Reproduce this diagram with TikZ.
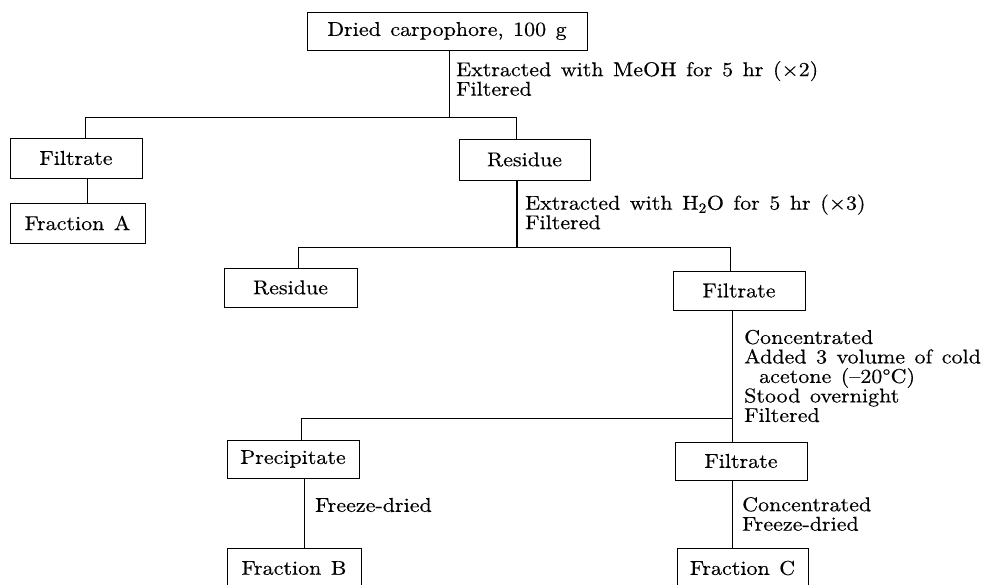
\documentclass[tikz,border=0pt]{standalone}
\usepackage{fontspec}
\setmainfont{lmroman10-regular}[Extension=.otf,FakeStretch=1.1,WordSpace=1.3,FakeBold=0.4]
\begin{document}
\begin{tikzpicture}[x=1pt,y=-1pt,
  font=\fontsize{20}{19.5}\selectfont,
  box/.style={draw, line width=0.9pt, rectangle, inner sep=0pt, align=center},
  lbl/.style={anchor=west, inner sep=0pt, align=left},
  ln/.style={line width=0.9pt},
  heavy/.style={line width=2pt}]
\useasboundingbox (0,0) rectangle (992,585);
% boxes
\node[box, minimum width=280pt, minimum height=38pt] (top) at (447,31) {Dried carpophore, 100 g};
\node[box, minimum width=132pt, minimum height=40pt] (fil1) at (76,158) {Filtrate};
\node[box, minimum width=135pt, minimum height=40pt] (fracA) at (77.5,223) {Fraction~A};
\node[box, minimum width=131pt, minimum height=41pt] (res1) at (524.5,159.5) {Residue};
\node[box, minimum width=133pt, minimum height=39pt] (res2) at (290.5,287.5) {Residue};
\node[box, minimum width=132pt, minimum height=39pt] (fil2) at (739,290.5) {Filtrate};
\node[box, minimum width=132pt, minimum height=38pt] (prec) at (293,459) {Precipitate};
\node[box, minimum width=132pt, minimum height=38pt] (fil3) at (741,461) {Filtrate};
\node[box, minimum width=134pt, minimum height=40pt] (fracB) at (294,568) {Fraction~B};
\node[box, minimum width=131pt, minimum height=40pt] (fracC) at (742.5,568) {Fraction~C};
% junction coordinates
\coordinate (j1) at (449,117);
\coordinate (j1l) at (85,117);
\coordinate (j1r) at (516,117);
\coordinate (k1) at (87,190);
\coordinate (j2) at (517,247);
\coordinate (j2l) at (298,247);
\coordinate (j2r) at (730,247);
\coordinate (j3) at (732,418);
\coordinate (j3l) at (301,418);
\coordinate (k4) at (304,510);
% connectors
\draw[ln] (top.south -| j1) -- (j1);
\draw[ln] (fil1.north -| j1l) -- (j1l) -- (j1r) -- (res1.north -| j1r);
\draw[ln] (fil1.south -| k1) -- (fracA.north -| k1);
\draw[heavy] (res1.south -| j2) -- (j2);
\draw[ln] (res2.north -| j2l) -- (j2l) -- (j2r) -- (fil2.north -| j2r);
\draw[ln] (fil2.south -| j3) -- (fil3.north -| j3);
\draw[ln] (prec.north -| j3l) -- (j3l) -- (j3);
\draw[ln] (prec.south -| k4) -- (fracB.north -| k4);
\draw[ln] (fil3.south -| j3) -- (fracC.north -| j3);
% labels
\node[lbl] (l1) at (456,78.5) {Extracted with MeOH for 5 hr (×2)\\Filtered};
\node[lbl] (l2) at (525,212) {Extracted with H\textsubscript{2}O for 5 hr (×3)\\Filtered};
\node[lbl] (l3) at (744,376) {Concentrated\\Added 3 volume of cold\\\hspace*{15pt}acetone (–20°C)\\Stood overnight\\Filtered};
\node[lbl] (l4) at (315,505) {Freeze-dried};
\node[lbl] (l5) at (742,514) {Concentrated\\Freeze-dried};
\end{tikzpicture}
\end{document}
